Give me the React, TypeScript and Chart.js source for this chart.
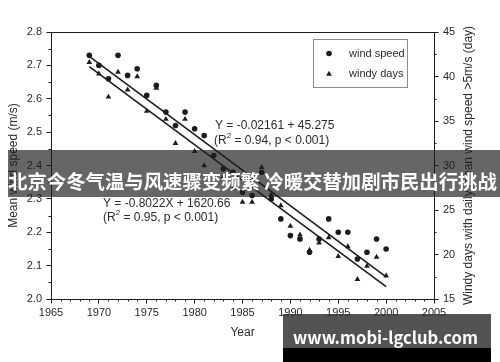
import React, { useEffect, useRef } from 'react';
import { Chart, registerables } from 'chart.js';

Chart.register(...registerables);

// ---------- data ----------
const years = [
  1969, 1970, 1971, 1972, 1973, 1974, 1975, 1976, 1977, 1978, 1979, 1980, 1981, 1982, 1983, 1984,
  1985, 1986, 1987, 1988, 1989, 1990, 1991, 1992, 1993, 1994, 1995, 1996, 1997, 1998, 1999, 2000,
];
const windSpeed = [
  2.73, 2.70, 2.66, 2.73, 2.67, 2.69, 2.61, 2.64, 2.56, 2.52, 2.56, 2.51, 2.49, 2.43, 2.39, 2.38,
  2.32, 2.31, 2.38, 2.30, 2.24, 2.19, 2.18, 2.14, 2.18, 2.24, 2.20, 2.20, 2.12, 2.14, 2.18, 2.15,
];
const windyDays = [
  41.6, 40.3, 37.7, 40.5, 38.5, 40.0, 36.1, 38.7, 35.2, 32.5, 35.2, 31.6, 30.0, 28.1, 28.7, 27.4,
  25.9, 25.9, 29.8, 26.7, 25.5, 23.2, 22.2, 20.5, 21.3, 21.9, 19.8, 20.9, 17.2, 18.7, 19.7, 17.6,
];
const fitYears = [1969, 2000];
const windFit = [2.727, 2.066];
const daysFit = [41.1, 16.4];

const xRange = [1965, 2005];
const leftRange = [2.0, 2.8];
const rightRange = [15, 45];

const seriesNames = ['wind speed', 'windy days'];
const xTitle = 'Year';
const leftTitle = 'Mean wind speed (m/s)';
const rightTitle = 'Windy days with daily mean wind speed >5m/s (day)';
const windEquation = 'Y = -0.02161 + 45.275';
const windR2 = '0.94';
const daysEquation = 'Y = -0.8022X + 1620.66';
const daysR2 = '0.95';
const pText = 'p < 0.001';
const bannerText = '北京今冬气温与风速骤变频繁 冷暖交替加剧市民出行挑战';
const watermarkText = 'www.mobi-lgclub.com';

// ---------- styles ----------
const FONT = "'Liberation Sans', Arial, Helvetica, sans-serif";
const CJK = "'Noto Sans CJK SC', 'Noto Sans', sans-serif";
const INK = '#1c1c1c';
const TEXT = '#2a2a2a';

function fitFont(ctx: CanvasRenderingContext2D, text: string, family: string, weight: string, width: number) {
  ctx.font = `${weight} 100px ${family}`;
  const w = ctx.measureText(text).width;
  return (100 * width) / w;
}

function drawTri(ctx: CanvasRenderingContext2D, x: number, y: number, r: number) {
  ctx.beginPath();
  ctx.moveTo(x, y - r);
  ctx.lineTo(x + r * 0.866, y + r * 0.5);
  ctx.lineTo(x - r * 0.866, y + r * 0.5);
  ctx.closePath();
  ctx.fill();
}

function drawStat(ctx: CanvasRenderingContext2D, x: number, y: number, r2: string) {
  ctx.textAlign = 'left';
  ctx.textBaseline = 'middle';
  ctx.font = `12px ${FONT}`;
  let cx = x;
  ctx.fillText('(R', cx, y);
  cx += ctx.measureText('(R').width;
  ctx.font = `8px ${FONT}`;
  ctx.fillText('2', cx, y - 5);
  cx += ctx.measureText('2').width;
  ctx.font = `12px ${FONT}`;
  ctx.fillText(` = ${r2}, ${pText})`, cx, y);
}

const overlayPlugin = {
  id: 'overlay',
  afterDraw(chart: any) {
    const { ctx, chartArea: a, scales } = chart;
    const sx = scales.x;
    const sy = scales.y;
    const sy1 = scales.y1;
    ctx.save();

    // frame top
    ctx.strokeStyle = INK;
    ctx.lineWidth = 1;
    const top = Math.round(a.top) + 0.5;
    ctx.beginPath();
    ctx.moveTo(a.left, top);
    ctx.lineTo(a.right + 0.5, top);
    ctx.stroke();

    // minor ticks
    ctx.beginPath();
    for (let yr = xRange[0]; yr <= xRange[1]; yr++) {
      if (yr % 5 === 0) continue;
      const px = Math.round(sx.getPixelForValue(yr)) + 0.5;
      ctx.moveTo(px, a.bottom);
      ctx.lineTo(px, a.bottom + 2.5);
    }
    for (let i = 1; i < 16; i += 2) {
      const py = Math.round(sy.getPixelForValue(leftRange[0] + i * 0.05)) + 0.5;
      ctx.moveTo(a.left - 2.5, py);
      ctx.lineTo(a.left, py);
    }
    for (let i = 1; i < 12; i += 2) {
      const py = Math.round(sy1.getPixelForValue(rightRange[0] + i * 2.5)) + 0.5;
      ctx.moveTo(a.right, py);
      ctx.lineTo(a.right + 2.5, py);
    }
    ctx.stroke();

    // axis titles
    ctx.fillStyle = TEXT;
    ctx.font = `12px ${FONT}`;
    ctx.textAlign = 'center';
    ctx.textBaseline = 'middle';
    ctx.fillText(xTitle, (a.left + a.right) / 2, 333);
    const midY = (a.top + a.bottom) / 2;
    ctx.save();
    ctx.translate(14, midY);
    ctx.rotate(-Math.PI / 2);
    ctx.fillText(leftTitle, 0, 0);
    ctx.restore();
    ctx.save();
    ctx.translate(469, midY);
    ctx.rotate(-Math.PI / 2);
    ctx.fillText(rightTitle, 0, 0);
    ctx.restore();

    // legend
    ctx.strokeStyle = '#8c8c8c';
    ctx.lineWidth = 1;
    ctx.strokeRect(313.5, 39.5, 94, 48);
    ctx.fillStyle = INK;
    ctx.beginPath();
    ctx.arc(329, 53.5, 2.8, 0, Math.PI * 2);
    ctx.fill();
    drawTri(ctx, 329, 74, 3.3);
    ctx.fillStyle = TEXT;
    ctx.font = `11px ${FONT}`;
    ctx.textAlign = 'left';
    ctx.textBaseline = 'middle';
    ctx.fillText(seriesNames[0], 349, 53.5);
    ctx.fillText(seriesNames[1], 349, 73.5);

    // regression annotations
    ctx.font = `12px ${FONT}`;
    ctx.fillText(windEquation, 215, 126);
    drawStat(ctx, 214, 140.5, windR2);
    ctx.font = `12px ${FONT}`;
    ctx.fillText(daysEquation, 103, 204);
    drawStat(ctx, 103, 217.5, daysR2);

    // banner
    ctx.fillStyle = 'rgba(30,30,30,0.68)';
    ctx.fillRect(8, 150, 492, 47);
    const bs = fitFont(ctx, bannerText, CJK, 'bold', 489);
    ctx.font = `bold ${bs}px ${CJK}`;
    ctx.fillStyle = '#ffffff';
    ctx.textAlign = 'left';
    ctx.textBaseline = 'middle';
    ctx.fillText(bannerText, 8, 182);

    // watermark
    ctx.fillStyle = 'rgba(45,45,45,0.82)';
    ctx.fillRect(283, 314, 208, 34);
    ctx.fillStyle = '#000000';
    ctx.fillRect(283, 348, 208, 14);
    const ws = fitFont(ctx, watermarkText, CJK, 'bold', 185);
    ctx.font = `bold ${ws}px ${CJK}`;
    ctx.fillStyle = '#ffffff';
    ctx.fillText(watermarkText, 293, 338);

    ctx.restore();
  },
};

export default function App() {
  const ref = useRef<HTMLCanvasElement | null>(null);

  useEffect(() => {
    const canvas = ref.current;
    if (!canvas) return;
    const tickFont = { family: FONT, size: 11 };
    const chart = new Chart(canvas, {
      type: 'scatter',
      data: {
        datasets: [
          {
            label: seriesNames[0],
            data: years.map((x, i) => ({ x, y: windSpeed[i] })),
            yAxisID: 'y',
            pointStyle: 'circle',
            pointRadius: 2.8,
            backgroundColor: INK,
            borderColor: INK,
            borderWidth: 0,
          },
          {
            label: seriesNames[1],
            data: years.map((x, i) => ({ x, y: windyDays[i] })),
            yAxisID: 'y1',
            pointStyle: 'triangle',
            pointRadius: 3.3,
            backgroundColor: INK,
            borderColor: INK,
            borderWidth: 0,
          },
          {
            type: 'line',
            label: 'wind fit',
            data: fitYears.map((x, i) => ({ x, y: windFit[i] })),
            yAxisID: 'y',
            borderColor: INK,
            borderWidth: 1.6,
            pointRadius: 0,
            fill: false,
          },
          {
            type: 'line',
            label: 'days fit',
            data: fitYears.map((x, i) => ({ x, y: daysFit[i] })),
            yAxisID: 'y1',
            borderColor: INK,
            borderWidth: 1.6,
            pointRadius: 0,
            fill: false,
          },
        ],
      } as any,
      options: {
        responsive: false,
        animation: false,
        devicePixelRatio: 1,
        layout: { padding: { top: 32, left: 0, right: 0, bottom: 0 } },
        plugins: { legend: { display: false }, tooltip: { enabled: false } },
        scales: {
          x: {
            type: 'linear',
            position: 'bottom',
            min: xRange[0],
            max: xRange[1],
            ticks: {
              stepSize: 5,
              callback: (v: any) => String(v),
              font: tickFont,
              color: TEXT,
              padding: 3,
              maxRotation: 0,
              autoSkip: false,
            },
            grid: { drawOnChartArea: false, drawTicks: true, tickLength: 4.5, color: INK, lineWidth: 1 },
            border: { display: true, color: INK, width: 1 },
            afterFit: (s: any) => {
              s.height = 63;
            },
          },
          y: {
            type: 'linear',
            position: 'left',
            min: leftRange[0],
            max: leftRange[1],
            ticks: {
              stepSize: 0.1,
              callback: (v: any) => Number(v).toFixed(1),
              font: tickFont,
              color: TEXT,
              padding: 4.5,
            },
            grid: { drawOnChartArea: false, drawTicks: true, tickLength: 4.5, color: INK, lineWidth: 1 },
            border: { display: true, color: INK, width: 1 },
            afterFit: (s: any) => {
              s.width = 51;
            },
          },
          y1: {
            type: 'linear',
            position: 'right',
            min: rightRange[0],
            max: rightRange[1],
            ticks: {
              stepSize: 5,
              callback: (v: any) => String(v),
              font: tickFont,
              color: TEXT,
              padding: 4.5,
            },
            grid: { drawOnChartArea: false, drawTicks: true, tickLength: 4.5, color: INK, lineWidth: 1 },
            border: { display: true, color: INK, width: 1 },
            afterFit: (s: any) => {
              s.width = 66;
            },
          },
        },
      } as any,
      plugins: [overlayPlugin],
    });
    return () => chart.destroy();
  }, []);

  return (
    <div style={{ position: 'absolute', left: 0, top: 0, width: 500, height: 362, background: '#fff' }}>
      <canvas ref={ref} width={500} height={362} style={{ display: 'block', width: 500, height: 362 }} />
    </div>
  );
}
